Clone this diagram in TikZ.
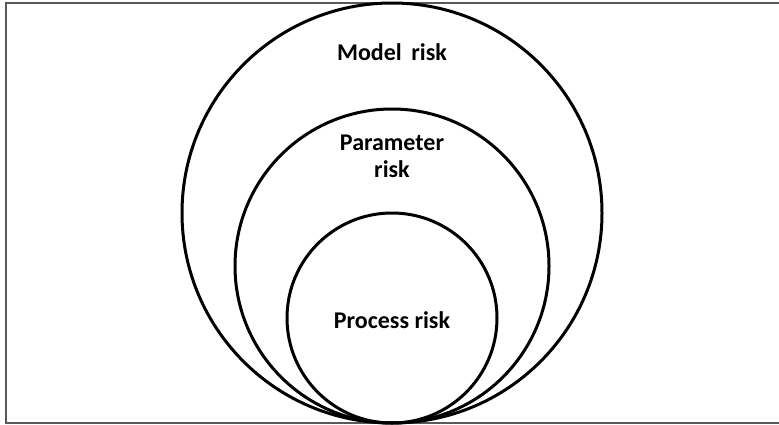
\documentclass[tikz,border=0pt]{standalone}
\usepackage{fontspec}
\setmainfont{Carlito}
\tikzset{ring/.style={draw, circle, line width=3pt, inner sep=0pt},
  lbl/.style={font=\bfseries\fontsize{24}{27}\selectfont, align=center, inner sep=2pt}}

\begin{document}
\begin{tikzpicture}[x=1pt,y=-1pt]
  \useasboundingbox (0,0) rectangle (779,425);
  % frame, open on the right
  \draw[gray!70!black, line width=2pt] (6,3) rectangle (800,423);

  \node at (392,213) [ring, minimum size=420pt] (model) {};
  \node at (392,266) [ring, minimum size=314pt] (param) {};
  \node at (392,318) [ring, minimum size=210pt] (process) {};

  \node at (392,52) [lbl] (modeltxt) {Model\hspace{0.4em}risk};
  \node at (392,156) [lbl] (paramtxt) {Parameter\\risk};
  \node at (392,320) [lbl] (processtxt) {Process risk};
\end{tikzpicture}
\end{document}
